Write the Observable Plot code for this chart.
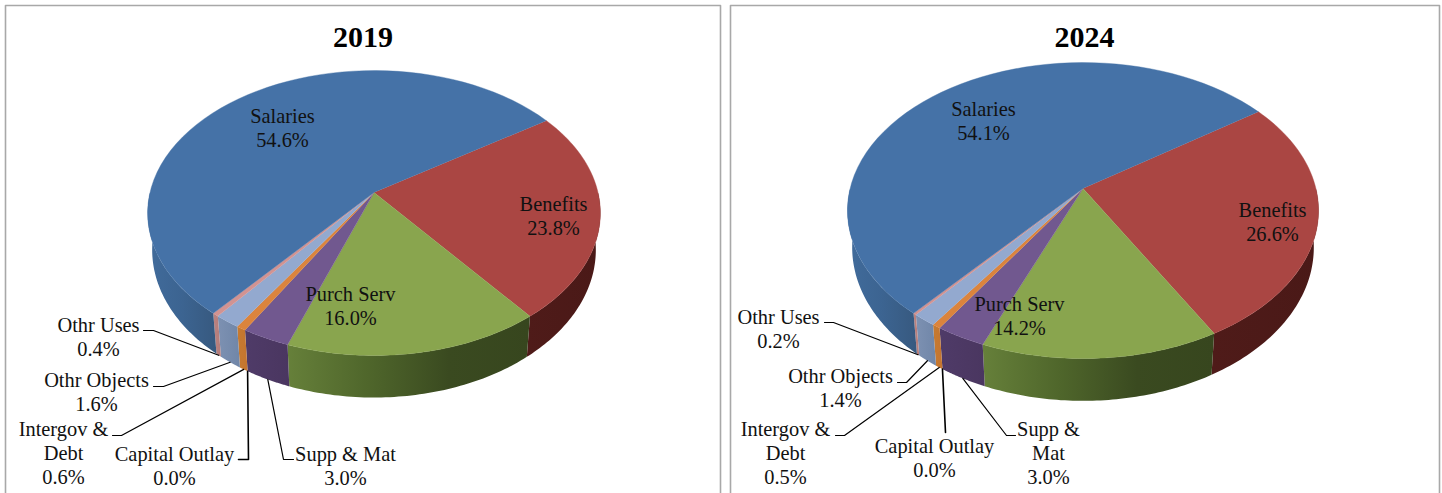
<!DOCTYPE html>
<html>
<head>
<meta charset="utf-8">
<title>Spending by category, 2019 and 2024</title>
<script src="https://cdn.jsdelivr.net/npm/d3@7"></script>
<script src="https://cdn.jsdelivr.net/npm/@observablehq/plot@0.6"></script>
<style>
  html, body { margin: 0; padding: 0; background: #fff; overflow: hidden; }
  #charts { display: flex; width: 1442px; height: 493px; }
  svg { display: block; }
</style>
</head>
<body>
<div id="charts"></div>
<script>
// Budget categories, clockwise from the Salaries/Benefits boundary
const categories = ["Benefits", "Purch Serv", "Supp & Mat", "Capital Outlay", "Intergov & Debt", "Othr Objects", "Othr Uses", "Salaries"];
const shares2019 = [23.8, 16.0, 3.0, 0.0, 0.6, 1.6, 0.4, 54.6];
const shares2024 = [26.6, 14.2, 3.0, 0.0, 0.5, 1.4, 0.2, 54.1];

// Label text with its line breaks, which differ a little per year
const names2019 = ["Benefits", "Purch Serv", "Supp & Mat", "Capital Outlay", "Intergov &\nDebt", "Othr Objects", "Othr Uses", "Salaries"];
const names2024 = ["Benefits", "Purch Serv", "Supp &\nMat", "Capital Outlay", "Intergov &\nDebt", "Othr Objects", "Othr Uses", "Salaries"];

// Lid colours and the side-wall shading running left to right
const lidColors = ["#AA4643", "#89A54E", "#71588F", "#4198AF", "#DB843D", "#93A9CF", "#D19392", "#4572A7"];
const wallShades = [
  ["#4f1b19", "#4a1917"],
  ["#66803a", "#4f662b", "#3a4a20", "#37461e"],
  ["#4f3b68", "#4a3660"],
  ["#35788a", "#35788a"],
  ["#c67a30", "#c4752f"],
  ["#7d91b2", "#7086a8"],
  ["#bb8280", "#b47c7a"],
  ["#416b9b", "#3c6491", "#37597f"]
];

// Label block centres and the elbow of each leader, in page pixels
const layout2019 = {
  labels: [[553, 215], [350, 305], [345, 465], [174, 465], [63, 452], [96, 391], [98, 336], [282, 127]],
  elbows: [null, null, [[293, 459], [283, 459]], [[238, 459], [248, 459]], [[112, 435], [121, 435]], [[153, 386], [163, 386]], [[143, 330], [153, 330]], null]
};
const layout2024 = {
  labels: [[1272, 221], [1019, 315], [1048, 452], [934, 457], [785, 452], [840, 387], [778, 328], [983, 120]],
  elbows: [null, null, [[1015, 435], [1006, 435]], [[945, 432]], [[835, 435], [844, 435]], [[897, 382], [906, 382]], [[824, 322], [833, 322]], null]
};

const labelFont = "Liberation Serif";
const deg = Math.PI / 180;

function piePanel({id, year, titleX, shares, names, layout, xDomain, border, pie}) {
  const {cx, cy, rx, ry, persp, depth, start} = pie;

  // Perspective projection of a point on the pie's rim; t runs clockwise from east
  const lid = (t) => {
    const u = Math.cos(t * deg), v = Math.sin(t * deg), w = 1 - persp * v;
    return [cx + rx * u / w, cy + ry * v / w];
  };
  const base = (t) => {
    const [x, y] = lid(t), w = 1 - persp * Math.sin(t * deg);
    return [cx + (x - cx) * 0.98, y + depth / w];
  };
  const arc = (a, b, f) => d3.range(0, 61).map((i) => f(a + (b - a) * i / 60));

  // Cumulative angles of the slices
  let running = start;
  const slices = shares.map((share, i) => {
    const a = running, b = running + share * 3.6;
    running = b;
    return {i, a, b, mid: (a + b) / 2};
  });

  // The part of a slice's rim that faces the viewer
  const frontRange = ({a, b}) => {
    for (const shift of [0, 360, -360]) {
      const lo = Math.max(a + shift, 0), hi = Math.min(b + shift, 180);
      if (hi > lo) return [lo, hi];
    }
    return null;
  };

  const gradients = () => {
    const defs = d3.create("svg:defs");
    wallShades.forEach((stops, i) => {
      const g = defs.append("linearGradient").attr("id", `${id}-wall-${i}`);
      stops.forEach((c, j) => g.append("stop")
        .attr("offset", j / (stops.length - 1)).attr("stop-color", c));
    });
    return defs.node();
  };

  const walls = slices.filter((s) => frontRange(s)).map((s) => {
    const [lo, hi] = frontRange(s);
    return Plot.line([...arc(lo, hi, lid), ...arc(hi, lo, base)], {
      x: (d) => d[0], y: (d) => d[1],
      fill: `url(#${id}-wall-${s.i})`, stroke: "none", curve: "linear"
    });
  });

  const lids = slices.filter((s) => s.b > s.a).map((s) =>
    Plot.line([[cx, cy], ...arc(s.a, s.b, lid)], {
      x: (d) => d[0], y: (d) => d[1],
      fill: lidColors[s.i], stroke: lidColors[s.i], strokeWidth: 0.4, curve: "linear"
    }));

  // Leaders run from the elbow down to the lower rim at the slice's middle
  const leaders = slices.filter((s) => layout.elbows[s.i]).map((s) =>
    Plot.line([...layout.elbows[s.i], base(s.mid)], {
      x: (d) => d[0], y: (d) => d[1],
      stroke: "#000", strokeWidth: categories[s.i] === "Capital Outlay" ? 1.6 : 1.2, curve: "linear"
    }));

  const labels = slices.map((s) => ({
    x: layout.labels[s.i][0],
    y: layout.labels[s.i][1],
    text: `${names[s.i]}\n${shares[s.i].toFixed(1)}%`
  }));

  return Plot.plot({
    width: xDomain[1] - xDomain[0],
    height: 493,
    margin: 0,
    x: {domain: xDomain, axis: null},
    y: {domain: [493, 0], axis: null},
    marks: [
      gradients,
      Plot.line(border, {x: (d) => d[0], y: (d) => d[1], stroke: "#a8a8a8", strokeWidth: 1.6}),
      ...walls,
      ...lids,
      ...leaders,
      Plot.text(labels, {
        x: "x", y: "y", text: "text",
        fill: "#111", fontSize: 20.4, lineHeight: 1.17, fontFamily: labelFont, textAnchor: "middle"
      }),
      Plot.text([year], {
        x: titleX, y: 37, text: (d) => d,
        fill: "#000", fontSize: 30, fontWeight: "bold", fontFamily: labelFont, letterSpacing: "4px"
      })
    ]
  });
}

const host = document.getElementById("charts");
host.append(piePanel({
  id: "y2019", year: "2019", titleX: 362.5, shares: shares2019, names: names2019, layout: layout2019,
  xDomain: [0, 725], border: [[5, 500], [5, 5], [720, 5], [720, 500]],
  pie: {cx: 373.5, cy: 192, rx: 224, ry: 139.5, persp: 0.144, depth: 36, start: -33.8}
}));
host.append(piePanel({
  id: "y2024", year: "2024", titleX: 1084, shares: shares2024, names: names2024, layout: layout2024,
  xDomain: [725, 1442], border: [[730, 500], [730, 5], [1439, 5], [1439, 500]],
  pie: {cx: 1082.5, cy: 188, rx: 232.9, ry: 144.7, persp: 0.149, depth: 36, start: -35.1}
}));
</script>
</body>
</html>
